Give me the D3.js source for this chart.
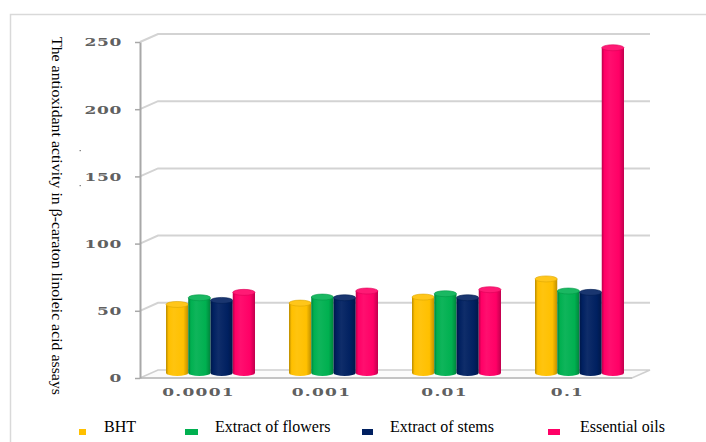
<!DOCTYPE html>
<html>
<head>
<meta charset="utf-8">
<script src="https://cdn.jsdelivr.net/npm/d3@7/dist/d3.min.js"></script>
<style>
  html, body { margin: 0; padding: 0; background: #fff; }
  svg { display: block; }
</style>
</head>
<body>
<svg id="chart" width="706" height="442"></svg>
<script>
// Concentrations on the category axis
const categories = ["0.0001", "0.001", "0.01", "0.1"];
// Series names
const seriesNames = ["BHT", "Extract of flowers", "Extract of stems", "Essential oils"];
// Antioxidant activity per series, one value per concentration
const bhtValues = [51, 52, 56.5, 70];
const flowerValues = [56, 56.5, 59, 61];
const stemValues = [54, 56, 56, 60];
const oilValues = [60, 61, 62, 242];
// Value-axis ticks
const yTicks = [0, 50, 100, 150, 200, 250];
const yTitle = "The antioxidant activity in \u03b2-caraton linoleic acid assays";

const seriesValues = [bhtValues, flowerValues, stemValues, oilValues];
const colors = ["#FFC000", "#00B050", "#002060", "#FF0066"];

const svg = d3.select("#chart");
const W = 706, H = 442;
const serif = "'Liberation Serif', 'Times New Roman', Times, serif";

// plot frame
const plotLeft = 140, plotRight = 632, plotTop = 42, plotBottom = 378;
// depth of the 3-D box (back wall offset) and of the bar row
const DEPTH_X = 18, DEPTH_Y = -8;
const BAR_DX = 9, BAR_DY = -5, RY = 3;

const x = d3.scaleBand().domain(categories).range([plotLeft, plotRight]).padding(0);
const y = d3.scaleLinear().domain([0, 250]).range([plotBottom, plotTop]);
const xs = d3.scaleBand().domain(seriesNames).range([0, 89]).padding(0);

// outer border
svg.append("path")
  .attr("d", `M${W},14.5 H10.5 V${H}`)
  .attr("fill", "none").attr("stroke", "#d9d9d9").attr("stroke-width", 1.5);

// gradients for the cylinders
const defs = svg.append("defs");
function shade(c, k) { return d3.color(c).darker(k).formatHex(); }
function tint(c, k) { return d3.interpolateRgb(c, "#ffffff")(k); }
colors.forEach((c, i) => {
  const g = defs.append("linearGradient").attr("id", "cyl" + i)
    .attr("x1", "0%").attr("x2", "100%").attr("y1", "0%").attr("y2", "0%");
  g.append("stop").attr("offset", "0%").attr("stop-color", shade(c, 0.9));
  g.append("stop").attr("offset", "12%").attr("stop-color", c);
  g.append("stop").attr("offset", "35%").attr("stop-color", tint(c, 0.06));
  g.append("stop").attr("offset", "78%").attr("stop-color", c);
  g.append("stop").attr("offset", "100%").attr("stop-color", shade(c, 0.8));
});

// back-wall gridlines with their slanted side-wall part
const grid = svg.append("g");
yTicks.filter(t => t > 0).forEach(t => {
  const yy = y(t);
  grid.append("path")
    .attr("d", `M${plotLeft},${yy} L${plotLeft + DEPTH_X},${yy + DEPTH_Y} H${plotRight + DEPTH_X}`)
    .attr("fill", "none").attr("stroke", "#d3d3d3").attr("stroke-width", 2);
});

// floor
svg.append("path")
  .attr("d", `M${plotLeft},${plotBottom} H${plotRight} L${plotRight + DEPTH_X},${plotBottom + DEPTH_Y} H${plotLeft + DEPTH_X} Z`)
  .attr("fill", "#fbfbfb").attr("stroke", "#cfcfcf").attr("stroke-width", 1.5);
svg.append("line")
  .attr("x1", plotLeft).attr("x2", plotRight).attr("y1", plotBottom).attr("y2", plotBottom)
  .attr("stroke", "#bdbdbd").attr("stroke-width", 1.5);

// value axis
const yAxis = svg.append("g").attr("transform", `translate(${plotLeft},0)`)
  .call(d3.axisLeft(y).tickValues(yTicks).tickSize(5).tickSizeOuter(0));
yAxis.select(".domain").attr("stroke", "#a8a8a8").attr("stroke-width", 2);
yAxis.selectAll(".tick line").attr("stroke", "#a8a8a8").attr("stroke-width", 1.5);
yAxis.selectAll(".tick text")
  .attr("x", -18 / 1.55).attr("dy", "0.36em")
  .attr("transform", "scale(1.55,1)")
  .style("font-family", "'DejaVu Serif', serif").style("font-size", "11px")
  .style("font-weight", "bold").style("letter-spacing", "0.4px")
  .attr("fill", "#606060");

// category axis
const xAxis = svg.append("g").attr("transform", `translate(0,${plotBottom})`)
  .call(d3.axisBottom(x).tickSize(0).tickPadding(10));
xAxis.select(".domain").remove();
xAxis.selectAll(".tick").attr("transform", d => `translate(${x(d) + x.bandwidth() / 2 - 3},0)`);
xAxis.selectAll(".tick text")
  .attr("transform", "scale(1.55,1)")
  .style("font-family", "'DejaVu Serif', serif").style("font-size", "11px")
  .style("font-weight", "bold").style("letter-spacing", "0.8px")
  .attr("fill", "#606060");

// cylinders
const bars = svg.append("g");
categories.forEach((cat, ci) => {
  seriesNames.forEach((name, si) => {
    const v = seriesValues[si][ci];
    const x0 = x(cat) + x.bandwidth() / 2 - 44.5 + BAR_DX + xs(name);
    const w = xs.bandwidth();
    const cx = x0 + w / 2;
    const yt = y(v) + BAR_DY;
    const yb = y(0) + BAR_DY;
    const grp = bars.append("g");
    grp.append("path")
      .attr("d", `M${x0},${yt} V${yb} A${w / 2},${RY} 0 0 0 ${x0 + w},${yb} V${yt} Z`)
      .attr("fill", `url(#cyl${si})`);
    grp.append("ellipse")
      .attr("cx", cx).attr("cy", yt).attr("rx", w / 2).attr("ry", RY)
      .attr("fill", tint(colors[si], 0.1))
      .attr("stroke", shade(colors[si], 0.4)).attr("stroke-width", 0.6);
  });
});

// axis title, rotated to read downward
svg.append("text")
  .attr("transform", "translate(52,37) rotate(90)")
  .attr("textLength", 358).attr("lengthAdjust", "spacingAndGlyphs")
  .style("font-family", serif)
  .style("font-size", "14.5px").attr("fill", "#000")
  .text(yTitle);

// stray marks beside the axis title
[150, 185].forEach(yy => {
  svg.append("rect").attr("x", 79.5).attr("y", yy).attr("width", 1.5).attr("height", 1.2)
    .attr("fill", "#888");
});

// legend
const legendMarkX = [79, 185, 362, 548];
const legendMarkW = [7, 13, 11, 12];
const legendTextX = [104, 215, 390, 580];
const legend = svg.append("g");
seriesNames.forEach((name, i) => {
  legend.append("rect")
    .attr("x", legendMarkX[i]).attr("y", 429).attr("width", legendMarkW[i]).attr("height", 6)
    .attr("fill", colors[i]);
  legend.append("text")
    .attr("x", legendTextX[i]).attr("y", 432)
    .style("font-family", serif)
    .style("font-size", "16px").attr("fill", "#000")
    .text(name);
});
</script>
</body>
</html>
